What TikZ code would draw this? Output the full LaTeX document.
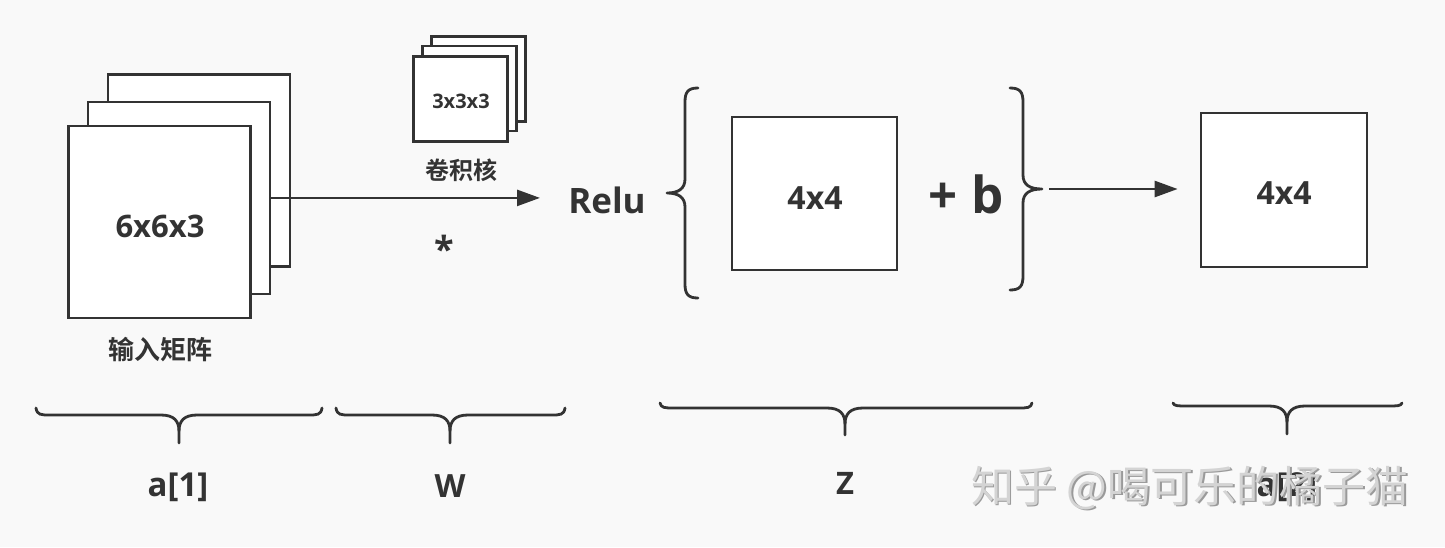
\documentclass[tikz,border=0pt]{standalone}
\usepackage{fontspec}
\setmainfont{Open Sans}
\newfontfamily\cjk{Noto Sans CJK SC}[BoldFont={Noto Sans CJK SC Bold}]
\usetikzlibrary{arrows.meta}
\definecolor{ink}{HTML}{333333}
\definecolor{bg}{HTML}{F9F9F9}
\definecolor{wmfill}{HTML}{D4D4D4}
\definecolor{wmshade}{HTML}{9A9A9A}
\newcommand\myhbrace[6]{%
  \draw[brc] (#1,#4) .. controls (#1+1,#5) and (#1+5,#5) .. (#1+14,#5)
    -- (#3-18,#5) .. controls (#3-5,#5) and (#3,#5+6) .. (#3,#5+16) -- (#3,#6);
  \draw[brc] (#3,#5+16) .. controls (#3,#5+6) and (#3+5,#5) .. (#3+18,#5)
    -- (#2-14,#5) .. controls (#2-5,#5) and (#2-1,#5) .. (#2,#4);}
\begin{document}
\begin{tikzpicture}[x=1pt,y=-1pt,
  box/.style={draw=ink,line width=2.7pt,fill=white,inner sep=0pt},
  lbl/.style={text=ink,inner sep=0pt,font=\bfseries},
  brc/.style={draw=ink,line width=2.8pt,line cap=round,line join=round},
  arr/.style={draw=ink,line width=2.6pt,-{Triangle[length=23pt,width=16pt]}}]
\useasboundingbox[fill=bg] (0,0) rectangle (1445,547);

% input stack
\node[box,minimum width=182pt,minimum height=192pt] (in3) at (198.9,170.5) {};
\node[box,minimum width=182pt,minimum height=192pt] (in2) at (179,197.9) {};
\node[box,minimum width=182pt,minimum height=192pt] (in1) at (159.7,221.9) {};
\node[lbl,font=\bfseries\fontsize{31}{31}\selectfont] (in1t) at (160,226) {6x6x3};
\node[lbl,font=\cjk\bfseries\fontsize{26}{26}\selectfont] (inlbl) at (160,350) {输入矩阵};

% kernel stack
\node[box,minimum width=94pt,minimum height=85pt] (k3) at (478.7,79.2) {};
\node[box,minimum width=94pt,minimum height=85pt] (k2) at (469.7,88.4) {};
\node[box,minimum width=94pt,minimum height=85pt] (k1) at (460.5,99.2) {};
\node[lbl,font=\bfseries\fontsize{20}{20}\selectfont] (k1t) at (461,101) {3x3x3};
\node[lbl,font=\cjk\bfseries\fontsize{24}{24}\selectfont] (klbl) at (461,170) {卷积核};

% first arrow
\coordinate (a1e) at (540,197.9);
\draw[arr] (in2.east) -- (a1e |- in2.east);
\node[lbl,font=\bfseries\fontsize{36}{36}\selectfont,anchor=base] (star) at (444,262) {*};

% Relu { 4x4 + b }
\node[lbl,font=\bfseries\fontsize{35}{35}\selectfont] (relu) at (607,200) {Relu};
\draw[brc] (698,88) .. controls (688,88) and (685,92) .. (685,102) -- (685,179)
  .. controls (685,189) and (678,193) .. (667,193)
  .. controls (678,193) and (685,197) .. (685,207) -- (685,284)
  .. controls (685,294) and (688,298) .. (698,298);
\node[box,minimum width=165pt,minimum height=153pt] (z) at (814.5,193.5) {};
\node[lbl,font=\bfseries\fontsize{32}{32}\selectfont] (zt) at (815,198) {4x4};
\node[lbl,font=\bfseries\fontsize{51}{51}\selectfont,anchor=base] (plusb) at (966,213) {+ b};
\draw[brc] (1010,88) .. controls (1020,88) and (1023,92) .. (1023,102) -- (1023,175)
  .. controls (1023,185) and (1030,189) .. (1042,189)
  .. controls (1030,189) and (1023,193) .. (1023,203) -- (1023,276)
  .. controls (1023,286) and (1020,290) .. (1010,290);

% second arrow and output
\node[box,minimum width=166pt,minimum height=154pt] (out) at (1284,190) {};
\node[lbl,font=\bfseries\fontsize{32}{32}\selectfont] (outt) at (1284,193) {4x4};
\coordinate (a2s) at (1049,189);
\draw[arr,shorten >=22pt] (a2s) -- (a2s -| out.west);

% bottom braces
\myhbrace{36}{322}{179}{408}{415}{443}
\myhbrace{336}{565}{450}{408}{415}{443}
\myhbrace{660}{1032}{845}{403}{408}{435}
\myhbrace{1173}{1402}{1287}{403}{406}{434}

\node[lbl,font=\bfseries\fontsize{33}{33}\selectfont] (la1) at (178,487) {a[1]};
\node[lbl,font=\bfseries\fontsize{32}{32}\selectfont] (lw) at (450,486) {W};
\node[lbl,font=\bfseries\fontsize{31}{31}\selectfont] (lz) at (845,483) {Z};
\node[lbl,font=\bfseries\fontsize{33}{33}\selectfont] (la2) at (1287,487) {a[2]};

% watermark
\node[inner sep=0pt,text=wmshade,font=\cjk\fontsize{43}{43}\selectfont] (wms) at (1191.5,489.5) {知乎 @喝可乐的橘子猫};
\node[inner sep=0pt,text=wmfill,font=\cjk\fontsize{43}{43}\selectfont] (wm) at (1190,488) {知乎 @喝可乐的橘子猫};
\end{tikzpicture}
\end{document}
